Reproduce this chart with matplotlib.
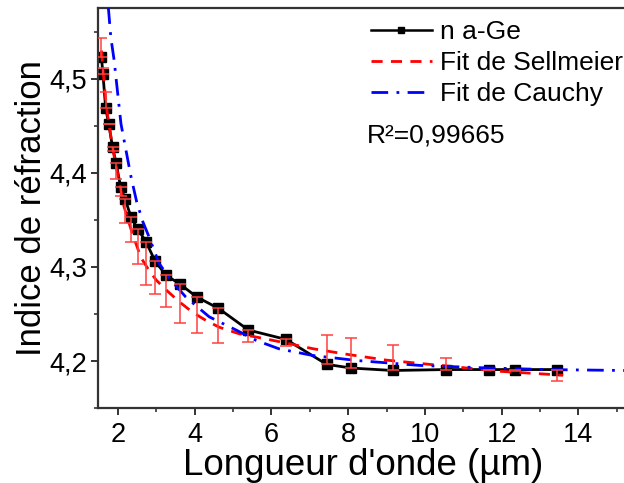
import matplotlib
matplotlib.use("Agg")
import matplotlib.pyplot as plt
from matplotlib.lines import Line2D

plt.rcParams['font.family'] = ['Liberation Sans', 'DejaVu Sans']

# ---- data ----
wavelength = [1.57, 1.61, 1.68, 1.76, 1.86, 1.95, 2.07, 2.19, 2.34, 2.52, 2.73, 2.97,
              3.26, 3.61, 4.06, 4.62, 5.40, 6.38, 7.44, 8.08, 9.16, 10.55, 11.66, 12.35, 13.44]
n_aGe = [4.523, 4.505, 4.469, 4.452, 4.427, 4.411, 4.385, 4.372, 4.353, 4.340, 4.327, 4.306,
         4.291, 4.282, 4.268, 4.256, 4.233, 4.223, 4.1965, 4.1926, 4.190, 4.191, 4.191, 4.191, 4.191]
err_lower = [0, 0, 0, 0, 0.004, 0.0176, 0.0092, 0.0255, 0.026, 0.0365, 0.046, 0.035,
             0.034, 0.042, 0.0386, 0.037, 0.013, 0.0074, 0, 0, 0, 0, 0, 0.002, 0.0124]
err_upper = [0.0202, 0.006, 0.017, 0, 0, 0, 0, 0, 0, 0, 0, 0,
             0, 0, 0, 0, 0, 0, 0.031, 0.032, 0.027, 0.0124, 0, 0, 0]

sellmeier_x = [1.57, 1.62, 1.70, 1.80, 1.90, 2.0, 2.16, 2.38, 2.6, 2.8, 3.0, 3.3, 3.6, 3.94,
               4.3, 4.64, 5.16, 5.8, 6.4, 7.1, 8.0, 9.0, 10.0, 11.0, 12.0, 13.0, 13.6]
sellmeier_y = [4.530, 4.505, 4.470, 4.443, 4.418, 4.398, 4.364, 4.335, 4.310, 4.297, 4.286,
               4.274, 4.263, 4.252, 4.243, 4.236, 4.229, 4.224, 4.219, 4.213, 4.207, 4.201,
               4.197, 4.193, 4.189, 4.1865, 4.185]

cauchy_x = [1.75, 1.815, 1.90, 1.99, 2.08, 2.21, 2.34, 2.49, 2.65, 2.81, 3.07, 3.38, 3.77,
            4.38, 5.08, 5.6, 6.2, 7.07, 8.2, 9.86, 11.42, 13.16, 15.2]
cauchy_y = [4.576, 4.544, 4.520, 4.486, 4.452, 4.424, 4.396, 4.369, 4.348, 4.332, 4.304,
            4.286, 4.268, 4.247, 4.233, 4.222, 4.213, 4.206, 4.2007, 4.1954, 4.193, 4.191, 4.190]

xticks = [2, 4, 6, 8, 10, 12, 14]
xtick_labels = ['2', '4', '6', '8', '10', '12', '14']
yticks = [4.2, 4.3, 4.4, 4.5]
ytick_labels = ['4,2', '4,3', '4,4', '4,5']

labels = ['n a-Ge', 'Fit de Sellmeier', 'Fit de Cauchy']
r2_text = 'R²=0,99665'

# ---- figure ----
fig = plt.figure(figsize=(6.24, 4.83), dpi=100)
ax = fig.add_axes([0.157, 0.155, 0.850, 0.828])

ax.plot(sellmeier_x, sellmeier_y, color='#ff0000', lw=2.0, ls=(0, (4, 3)), zorder=3)
ax.plot(cauchy_x, cauchy_y, color='#0000ff', lw=2.0, ls=(0, (6, 3, 1, 3)), zorder=3)
ax.plot(wavelength, n_aGe, color='black', lw=2.0, marker='s', ms=6.5, zorder=2)
ax.errorbar(wavelength, n_aGe, yerr=[err_lower, err_upper], fmt='none',
            ecolor='#ff4040', elinewidth=1.1, capsize=4, capthick=1.1, zorder=4)

ax.set_xlim(1.48, 15.3)
ax.set_ylim(4.15, 4.575)
ax.set_xticks(xticks, labels=xtick_labels)
ax.set_yticks(yticks, labels=ytick_labels)
ax.set_xticks([3, 5, 7, 9, 11, 13, 15], minor=True)
ax.set_yticks([4.15, 4.25, 4.35, 4.45, 4.55], minor=True)
ax.tick_params(which='major', direction='out', length=5, width=1.4, labelsize=19.5, colors='#333333',
               labelcolor='black')
ax.tick_params(which='minor', direction='out', length=3, width=1.2, colors='#333333')
ax.tick_params(axis='x', pad=5)
ax.tick_params(axis='y', pad=3)
for s in ax.spines.values():
    s.set_linewidth(1.6)
    s.set_color('#333333')

ax.set_xlabel("Longueur d'onde (µm)", fontsize=26.5, labelpad=0)
ax.set_ylabel("Indice de réfraction", fontsize=25, labelpad=1)

handles = [
    Line2D([], [], color='black', lw=1.8, marker='s', ms=5),
    Line2D([], [], color='#ff0000', lw=2.0, ls=(0, (4, 3))),
    Line2D([], [], color='#0000ff', lw=2.0, ls=(0, (6, 3, 1, 3))),
]
fig.legend(handles, labels, loc='upper left', bbox_to_anchor=(0.586, 0.970),
           frameon=False, fontsize=19, handlelength=2.3, handletextpad=0.3,
           labelspacing=0.27, borderaxespad=0, borderpad=0.2)
fig.text(0.588, 0.72, r2_text, fontsize=19, va='center', ha='left')

fig.savefig('out.png', dpi=100)
